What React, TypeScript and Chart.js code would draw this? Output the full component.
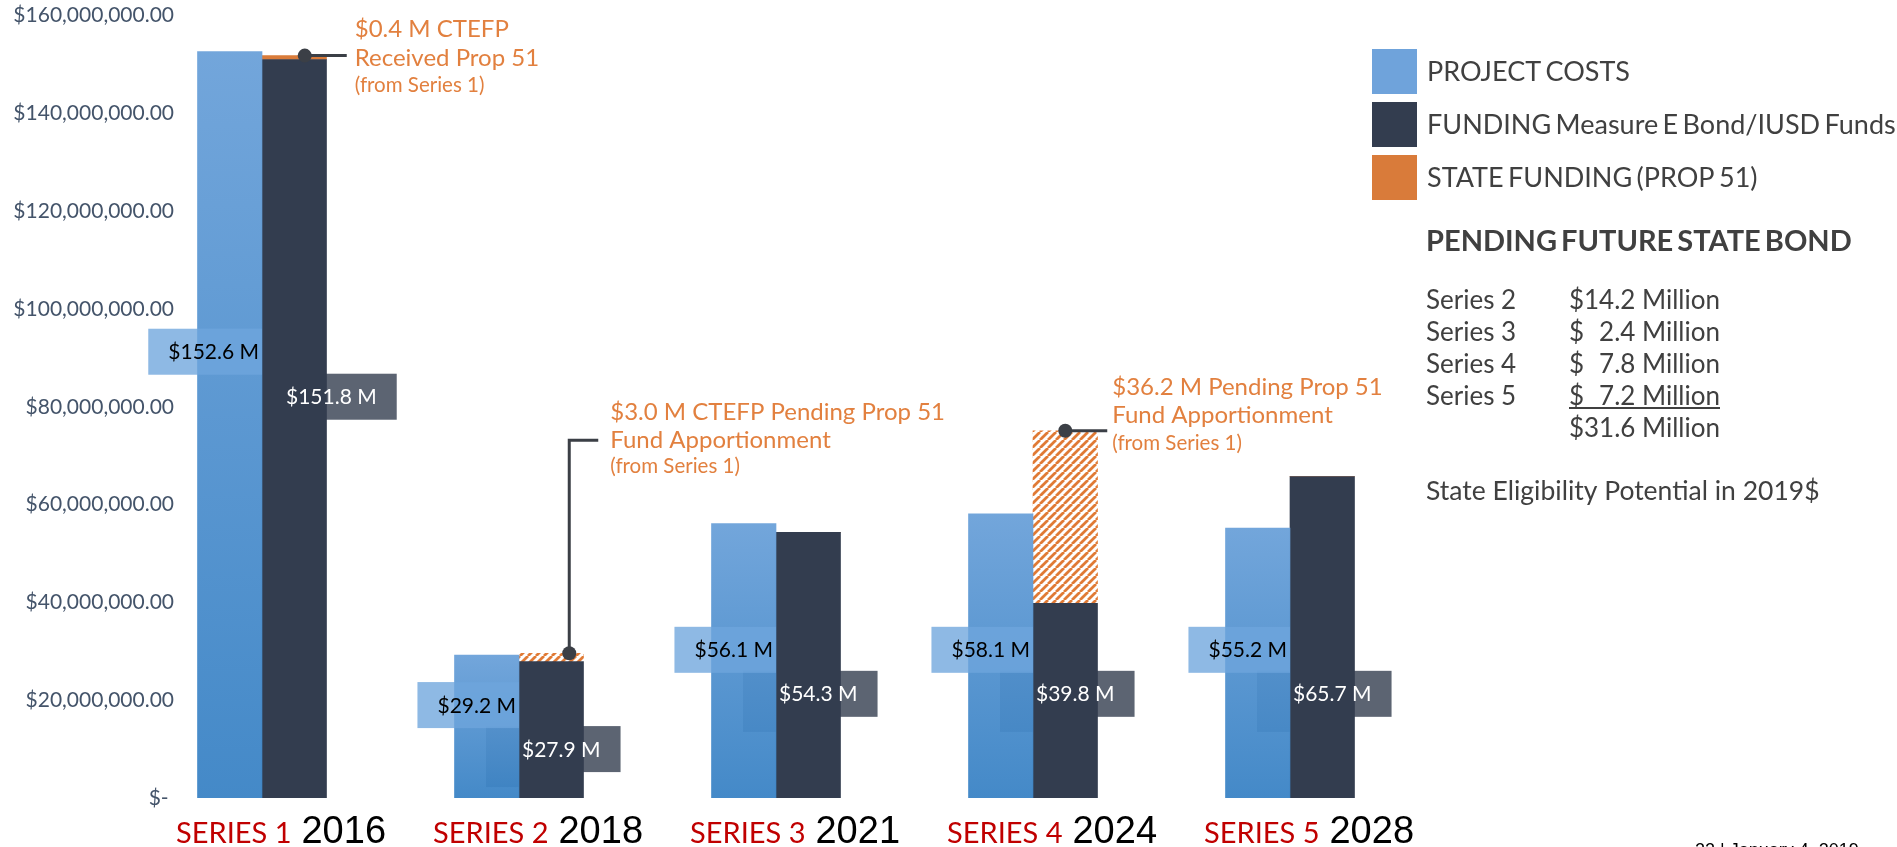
import React, { useEffect, useRef } from 'react';
import { Chart, registerables } from 'chart.js';

Chart.register(...registerables);

// ---------------- data ----------------
const categories = ['SERIES 1', 'SERIES 2', 'SERIES 3', 'SERIES 4', 'SERIES 5'];
const years = ['2016', '2018', '2021', '2024', '2028'];
const projectCostsM = [152.6, 29.2, 56.1, 58.1, 55.2];
const fundingM = [151.0, 27.9, 54.3, 39.8, 65.7];
const stateFundingM = [0.8, 1.7, 0, 35.3, 0];
const statePending = [false, true, false, true, false];
const projectLabels = ['$152.6 M', '$29.2 M', '$56.1 M', '$58.1 M', '$55.2 M'];
const fundingLabels = ['$151.8 M', '$27.9 M', '$54.3 M', '$39.8 M', '$65.7 M'];
const yTickStepM = 20;
const yMaxM = 160;
const seriesNames = ['PROJECT COSTS', 'FUNDING Measure E Bond/IUSD Funds', 'STATE FUNDING (PROP 51)'];
const annotationIndex = [0, 1, 3];
const annotationLines = [
  ['$0.4 M CTEFP', 'Received Prop 51', '(from Series 1)'],
  ['$3.0 M CTEFP Pending Prop 51', 'Fund Apportionment', '(from Series 1)'],
  ['$36.2 M Pending Prop 51', 'Fund Apportionment', '(from Series 1)'],
];
const pendingTitle = 'PENDING FUTURE STATE BOND';
const pendingSeries = ['Series 2', 'Series 3', 'Series 4', 'Series 5'];
const pendingAmountsM = [14.2, 2.4, 7.8, 7.2];
const pendingTotalLabel = '$31.6 Million';
const eligibilityNote = 'State Eligibility Potential in 2019$';
const footerText = '22 | January 4, 2019';

// ---------------- layout / style ----------------
const FONT = "Lato, 'Noto Sans', sans-serif";
const ARIAL = "'Liberation Sans', Arial, sans-serif";
const C_PROJECT = '#6FA3DB';
const C_FUND = '#333D4F';
const C_STATE = '#D97B3A';
const C_ORANGE_TXT = '#E2803F';
const C_TEXT = '#404040';
const projectLabelAnchorM = [91.25, 19.0, 30.3, 30.3, 30.3];
const fundingLabelAnchorM = [82.05, 10.0, 21.3, 21.3, 21.3];
const fundingTextInset = [24, 3, 3, 3, 3];
const annotationStyle = [
  { dotDx: 10.5, riseTo: 0, lineDx: 42, textDx: 50, dy: [-19, 10, 36] },
  { dotDx: 18, riseTo: -213, lineDx: 29, textDx: 41, dy: [-233, -205, -180] },
  { dotDx: 0, riseTo: 0, lineDx: 42, textDx: 47, dy: [-36, -8, 19] },
];

function makeHatch(): CanvasPattern | string {
  const c = document.createElement('canvas');
  c.width = 8;
  c.height = 8;
  const g = c.getContext('2d');
  if (!g) return C_STATE;
  g.fillStyle = '#ffffff';
  g.fillRect(0, 0, 8, 8);
  g.strokeStyle = '#E07A35';
  g.lineWidth = 2.8;
  g.beginPath();
  for (const k of [-8, 0, 8]) {
    g.moveTo(k, 8);
    g.lineTo(k + 8, 0);
  }
  g.stroke();
  return g.createPattern(c, 'repeat') || C_STATE;
}

function fundingGeom(chart: any, i: number) {
  const ctx = chart.ctx as CanvasRenderingContext2D;
  const el = chart.getDatasetMeta(1).data[i] as any;
  const left = el.x - el.width / 2;
  ctx.font = `21px ${FONT}`;
  const w = ctx.measureText(fundingLabels[i]).width;
  const textLeft = left + fundingTextInset[i];
  const boxLeft = i === 0 ? textLeft - 4 : left - 33;
  const boxRight = textLeft + w + 20;
  const yc = chart.scales.y.getPixelForValue(fundingLabelAnchorM[i] * 1e6);
  return { barLeft: left, textLeft, boxLeft, boxRight, yc };
}

const overlayPlugin = {
  id: 'overlay',
  beforeDatasetsDraw(chart: any) {
    const ctx = chart.ctx as CanvasRenderingContext2D;
    ctx.save();
    for (let i = 0; i < categories.length; i++) {
      const g = fundingGeom(chart, i);
      ctx.fillStyle = 'rgba(51,61,79,0.8)';
      if (g.boxLeft < g.barLeft) {
        ctx.fillRect(g.boxLeft, g.yc - 23, g.barLeft - g.boxLeft, 61);
        ctx.fillRect(g.barLeft, g.yc - 23, g.boxRight - g.barLeft, 46);
      } else {
        ctx.fillRect(g.boxLeft, g.yc - 23, g.boxRight - g.boxLeft, 46);
      }
    }
    ctx.restore();
  },
  afterDatasetsDraw(chart: any) {
    const ctx = chart.ctx as CanvasRenderingContext2D;
    const yScale = chart.scales.y;
    const xScale = chart.scales.x;
    ctx.save();

    // value labels
    for (let i = 0; i < categories.length; i++) {
      const el = chart.getDatasetMeta(0).data[i] as any;
      const barRight = el.x + el.width / 2;
      ctx.font = `21px ${FONT}`;
      const w = ctx.measureText(projectLabels[i]).width;
      const textRight = barRight - 3;
      const boxLeft = textRight - w - 20;
      const yc = yScale.getPixelForValue(projectLabelAnchorM[i] * 1e6);
      ctx.fillStyle = 'rgba(110,165,220,0.78)';
      ctx.fillRect(boxLeft, yc - 23, barRight - boxLeft, 46);
      ctx.fillStyle = '#000000';
      ctx.textAlign = 'right';
      ctx.textBaseline = 'alphabetic';
      ctx.fillText(projectLabels[i], textRight, yc + 7.5);

      const g = fundingGeom(chart, i);
      ctx.font = `21px ${FONT}`;
      ctx.fillStyle = '#ffffff';
      ctx.textAlign = 'left';
      ctx.fillText(fundingLabels[i], g.textLeft, g.yc + 7.5);
    }

    // annotations
    annotationIndex.forEach((idx, a) => {
      const st = annotationStyle[a];
      const el = chart.getDatasetMeta(2).data[idx] as any;
      const dx = el.x + st.dotDx;
      const dy = el.y;
      ctx.strokeStyle = '#3B3F46';
      ctx.lineWidth = 3;
      ctx.beginPath();
      ctx.moveTo(dx, dy);
      if (st.riseTo !== 0) {
        ctx.lineTo(dx, dy + st.riseTo);
        ctx.lineTo(dx + st.lineDx, dy + st.riseTo);
      } else {
        ctx.lineTo(dx + st.lineDx, dy);
      }
      ctx.stroke();
      ctx.fillStyle = '#3B3F46';
      ctx.beginPath();
      ctx.arc(dx, dy, 7, 0, Math.PI * 2);
      ctx.fill();
      ctx.fillStyle = C_ORANGE_TXT;
      ctx.textAlign = 'left';
      ctx.textBaseline = 'alphabetic';
      annotationLines[a].forEach((line, k) => {
        ctx.font = k === 2 ? `20.5px ${FONT}` : `24px ${FONT}`;
        ctx.fillText(line, dx + st.textDx, dy + st.dy[k]);
      });
    });

    // legend
    const legendColors = [C_PROJECT, C_FUND, C_STATE];
    chart.data.datasets.forEach((ds: any, i: number) => {
      const y0 = 49 + i * 53;
      ctx.fillStyle = legendColors[i];
      ctx.fillRect(1372, y0, 45, 45);
      ctx.fillStyle = C_TEXT;
      ctx.font = `27px ${FONT}`;
      (ctx as any).wordSpacing = '-2.5px';
      ctx.textAlign = 'left';
      ctx.textBaseline = 'alphabetic';
      ctx.fillText(ds.label, 1427, y0 + 32);
      (ctx as any).wordSpacing = '0px';
    });

    // pending state bond panel
    ctx.fillStyle = C_TEXT;
    ctx.font = `bold 29px ${FONT}`;
    (ctx as any).wordSpacing = '-3px';
    ctx.textAlign = 'left';
    ctx.fillText(pendingTitle, 1426, 251);
    (ctx as any).wordSpacing = '0px';
    ctx.font = `26px ${FONT}`;
    pendingSeries.forEach((s, i) => {
      const by = 309 + i * 32;
      ctx.textAlign = 'left';
      ctx.fillText(s, 1426, by);
      ctx.fillText('$', 1569, by);
      ctx.textAlign = 'right';
      ctx.fillText(`${pendingAmountsM[i].toFixed(1)} Million`, 1720, by);
    });
    ctx.fillRect(1569, 407, 151, 2);
    ctx.textAlign = 'right';
    ctx.fillText(pendingTotalLabel, 1720, 437);
    ctx.textAlign = 'left';
    ctx.font = `26.5px ${FONT}`;
    ctx.fillText(eligibilityNote, 1426, 500);

    // x labels
    categories.forEach((c, i) => {
      const cx = xScale.getPixelForValue(i) + 19;
      ctx.font = `29px ${FONT}`;
      const w1 = ctx.measureText(c).width;
      ctx.font = `38px ${ARIAL}`;
      const w2 = ctx.measureText(years[i]).width;
      const start = cx - (w1 + 10 + w2) / 2;
      ctx.textAlign = 'left';
      ctx.textBaseline = 'alphabetic';
      ctx.font = `29px ${FONT}`;
      ctx.fillStyle = '#C00000';
      ctx.fillText(c, start, 843);
      ctx.font = `38px ${ARIAL}`;
      ctx.fillStyle = '#000000';
      ctx.fillText(years[i], start + w1 + 10, 843);
    });

    // footer (mostly cut off)
    ctx.font = `18px ${ARIAL}`;
    ctx.fillStyle = '#000000';
    ctx.textAlign = 'left';
    ctx.textBaseline = 'top';
    ctx.fillText(footerText, 1695, 842);

    ctx.restore();
  },
};

export default function App() {
  const ref = useRef<HTMLCanvasElement>(null);
  useEffect(() => {
    if (!ref.current) return;
    const hatch = makeHatch();
    const toPoints = (arr: number[]) => arr.map((v, i) => ({ x: i, y: v * 1e6 }));
    const chart = new Chart(ref.current, {
      type: 'bar',
      data: {
        datasets: [
          {
            label: seriesNames[0],
            data: toPoints(projectCostsM),
            stack: 'cost',
            backgroundColor: (ctx: any) => {
              const ch = ctx.chart;
              if (!ch.chartArea || ctx.type !== 'data') return 'rgba(80,145,210,0.95)';
              const y = ch.scales.y;
              const top = y.getPixelForValue(projectCostsM[ctx.dataIndex] * 1e6);
              const bot = y.getPixelForValue(0);
              const g = ch.ctx.createLinearGradient(0, top, 0, bot);
              g.addColorStop(0, 'rgba(107,161,217,0.95)');
              g.addColorStop(1, 'rgba(58,131,197,0.95)');
              return g;
            },
          },
          {
            label: seriesNames[1],
            data: toPoints(fundingM),
            stack: 'fund',
            backgroundColor: C_FUND,
          },
          {
            label: seriesNames[2],
            data: toPoints(stateFundingM),
            stack: 'fund',
            backgroundColor: (ctx: any) => (statePending[ctx.dataIndex] ? hatch : C_STATE),
          },
        ],
      },
      options: {
        responsive: false,
        animation: false,
        devicePixelRatio: 1,
        datasets: {
          bar: { barThickness: 64.5, borderWidth: 0 },
        },
        layout: { padding: { top: 15.5, right: 478.5, bottom: 0, left: 0 } },
        plugins: { legend: { display: false }, tooltip: { enabled: false } },
        scales: {
          x: {
            type: 'linear',
            offset: false,
            min: -77 / 257,
            max: 4.5,
            grid: { display: false, offset: false, drawTicks: false },
            border: { display: false },
            ticks: { display: false },
            afterFit: (s: any) => {
              s.height = 49;
              s.paddingLeft = 0;
              s.paddingRight = 0;
            },
          },
          y: {
            stacked: true,
            min: 0,
            max: yMaxM * 1e6,
            grid: { display: false, drawTicks: false },
            border: { display: false },
            ticks: {
              stepSize: yTickStepM * 1e6,
              padding: 11,
              color: '#44546A',
              font: { family: FONT, size: 21 },
              callback: (v: any) =>
                Number(v) === 0
                  ? '$- '
                  : '$' + Number(v).toLocaleString('en-US', { minimumFractionDigits: 2, maximumFractionDigits: 2 }),
            },
            afterFit: (s: any) => {
              s.width = 185;
              s.paddingTop = 0;
              s.paddingBottom = 0;
            },
          },
        },
      },
      plugins: [overlayPlugin],
    } as any);
    return () => chart.destroy();
  }, []);
  return (
    <div style={{ position: 'absolute', left: 0, top: 0, width: 1897, height: 847, background: '#ffffff', overflow: 'hidden' }}>
      <canvas ref={ref} width={1897} height={847} style={{ display: 'block', width: 1897, height: 847 }} />
    </div>
  );
}
